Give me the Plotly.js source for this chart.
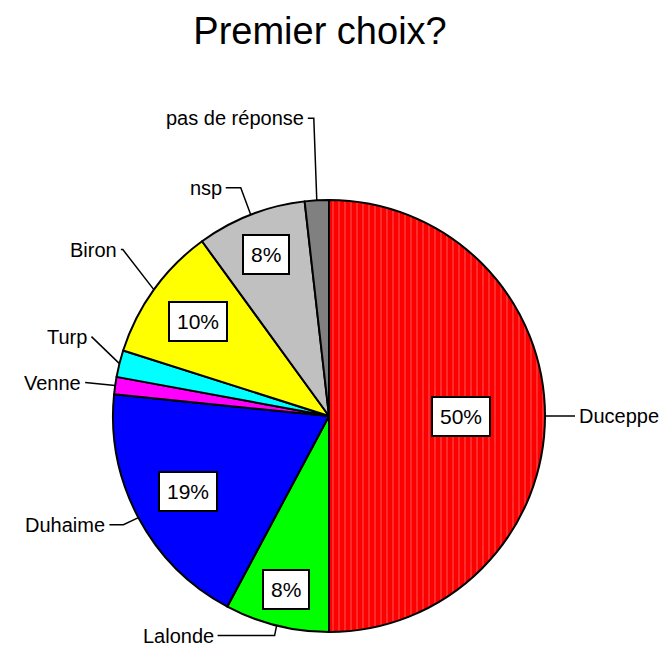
<!DOCTYPE html>
<html>
<head>
<meta charset="utf-8">
<script src="https://cdn.plot.ly/plotly-3.0.1.min.js"></script>
<style>html,body{margin:0;padding:0;background:#fff;}#chart{width:666px;height:648px;}</style>
</head>
<body>
<div id="chart"></div>
<script>
// ---- data ----
const categories = ["Duceppe", "Lalonde", "Duhaime", "Venne", "Turp", "Biron", "nsp", "pas de réponse"];
const shares = [50.0, 7.8, 18.8, 1.3, 2.0, 10.1, 8.2, 1.8];
const chartTitle = "Premier choix?";

// ---- style ----
const sliceColors = ["#FF0000", "#00FF00", "#0000FF", "#FF00FF", "#00FFFF", "#FFFF00", "#C0C0C0", "#808080"];
const W = 666, H = 648;
const cx = 329, cy = 416, R = 216;           // pie geometry (px)
const labelRadius = [0.61, 0.83, 0.74, 0, 0, 0.75, 0.80, 0]; // fraction of R for % boxes
const leaderElbow = [[30,0],[-2,10],[-15,7],[-30,-3],[-28,-27],[-31,-40],[-10,-27],[-3,-82]];
const leaderRun = [0,-57,-14,0,0,-2,-15,-6];
const FONT = "Liberation Sans, Arial, sans-serif";

const px = (x) => x / W;
const py = (y) => 1 - y / H;

const total = shares.reduce((a, b) => a + b, 0);
const annotations = [];
const shapes = [];
let cum = 0;
shares.forEach((v, i) => {
  const mid = 2 * Math.PI * (cum + v / 2) / total;
  cum += v;
  const sx = Math.sin(mid), sy = -Math.cos(mid);
  // percentage box
  const pct = Math.round(100 * v / total);
  if (pct >= 5) {
    const r = R * labelRadius[i];
    annotations.push({
      x: px(cx + r * sx), y: py(cy + r * sy), xref: "paper", yref: "paper",
      text: pct + "%", showarrow: false, xanchor: "center", yanchor: "middle",
      font: {family: FONT, size: 21, color: "#000"},
      bgcolor: "#fff", bordercolor: "#000", borderwidth: 2, borderpad: 7
    });
  }
  // leader line
  const ex = cx + R * sx, ey = cy + R * sy;
  const bx = ex + leaderElbow[i][0], by = ey + leaderElbow[i][1];
  const tx = bx + leaderRun[i], ty = by;
  shapes.push({
    type: "path", xref: "paper", yref: "paper",
    path: `M ${px(ex)} ${py(ey)} L ${px(bx)} ${py(by)} L ${px(tx)} ${py(ty)}`,
    line: {color: "#000", width: 1.5}
  });
  const right = sx > 0;
  annotations.push({
    x: px(tx + (right ? 3 : -3)), y: py(ty), xref: "paper", yref: "paper",
    text: categories[i], showarrow: false,
    xanchor: right ? "left" : "right", yanchor: "middle",
    font: {family: FONT, size: 20, color: "#000"},
    borderpad: 0
  });
});

const trace = {
  type: "pie",
  labels: categories,
  values: shares,
  sort: false,
  direction: "clockwise",
  rotation: 0,
  textinfo: "none",
  hoverinfo: "label+percent",
  showlegend: false,
  domain: {x: [px(cx - R), px(cx + R)], y: [py(cy + R), py(cy - R)]},
  marker: {
    colors: sliceColors,
    line: {color: "#000", width: 2},
    pattern: {
      shape: ["|", "", "", "", "", "", "", ""],
      fgcolor: ["#ff4848", "#00FF00", "#0000FF", "#FF00FF", "#00FFFF", "#FFFF00", "#C0C0C0", "#808080"],
      bgcolor: sliceColors,
      size: 6, solidity: 0.2, fillmode: "replace"
    }
  }
};

const layout = {
  width: W, height: H,
  margin: {l: 0, r: 0, t: 0, b: 0},
  paper_bgcolor: "#fff",
  title: {
    text: chartTitle, x: 320 / W, xanchor: "center", xref: "paper",
    y: 1 - 31 / H, yanchor: "middle", yref: "container",
    font: {family: FONT, size: 38, color: "#000"}
  },
  annotations: annotations,
  shapes: shapes
};

Plotly.newPlot("chart", [trace], layout, {displayModeBar: false, staticPlot: true});
</script>
</body>
</html>
